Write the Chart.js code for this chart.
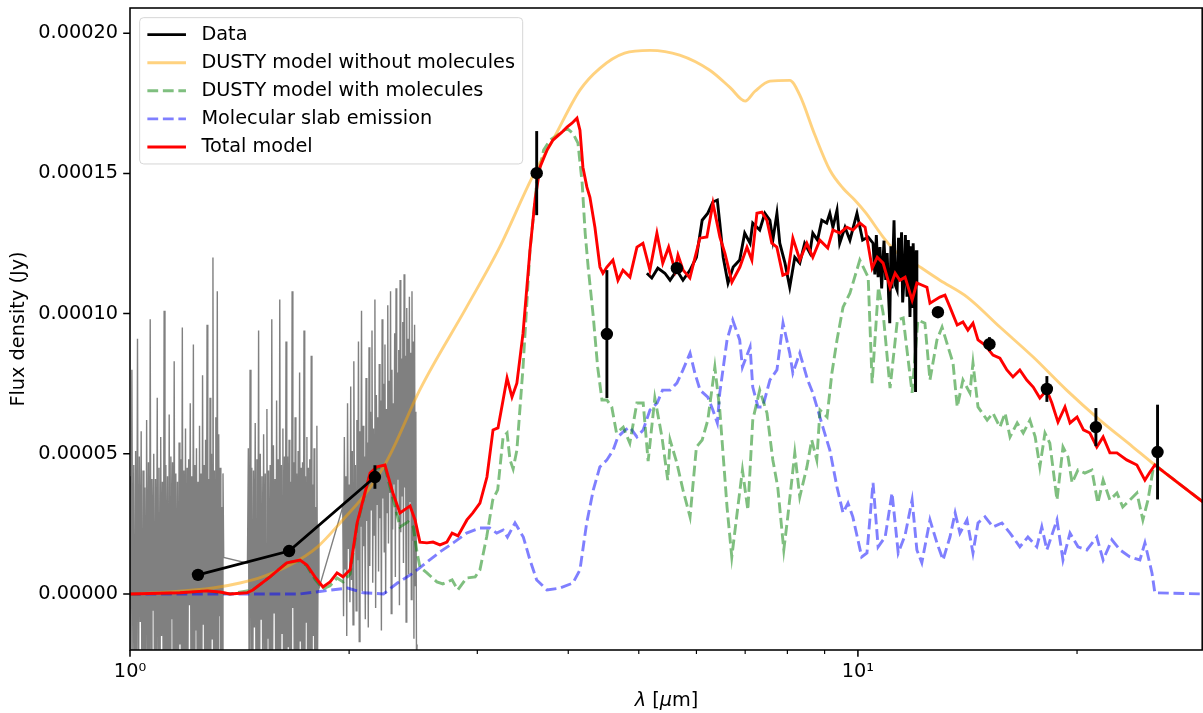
<!DOCTYPE html>
<html>
<head>
<meta charset="utf-8">
<title>SED model comparison</title>
<script src="https://cdn.jsdelivr.net/npm/chart.js@4.4.1/dist/chart.umd.min.js"></script>
<style>
  html, body { margin: 0; padding: 0; background: #fff; }
  #sed { display: block; }
</style>
</head>
<body>
<canvas id="sed" width="1203" height="713"></canvas>
<script>
// Wavelengths in micron, fluxes in units of 1e-5 Jy.

// near-IR spectrum, J / H / K windows
const jWave = [
  1.000, 1.003, 1.006, 1.009, 1.012, 1.015, 1.018, 1.021, 1.024, 1.027,
  1.030, 1.033, 1.036, 1.039, 1.042, 1.045, 1.048, 1.051, 1.054, 1.057,
  1.060, 1.063, 1.066, 1.069, 1.072, 1.075, 1.078, 1.081, 1.084, 1.087,
  1.090, 1.093, 1.096, 1.099, 1.102, 1.105, 1.108, 1.111, 1.114, 1.117,
  1.120, 1.123, 1.126, 1.129, 1.132, 1.135, 1.138, 1.141, 1.144, 1.147,
  1.150, 1.153, 1.156, 1.159, 1.162, 1.165, 1.168, 1.171, 1.174, 1.177,
  1.180, 1.183, 1.186, 1.189, 1.192, 1.195, 1.198, 1.201, 1.204, 1.207,
  1.210, 1.213, 1.216, 1.219, 1.222, 1.225, 1.228, 1.231, 1.234, 1.237,
  1.240, 1.243, 1.246, 1.249, 1.252, 1.255, 1.258, 1.261, 1.264, 1.267,
  1.270, 1.273, 1.276, 1.279, 1.282, 1.285, 1.288, 1.291, 1.294, 1.297,
  1.300, 1.303, 1.306, 1.309, 1.312, 1.315, 1.318, 1.321, 1.324, 1.327,
  1.330, 1.333, 1.336, 1.339, 1.342, 1.345
];
const jFlux = [
  4.2, -4.8, 8.0, -2.1, 4.6, -6.5, 5.1, -3.0, 9.1, -5.2,
  4.9, -1.0, 5.8, -7.1, 4.4, -3.6, 3.8, -4.9, 6.2, -2.4,
  4.7, -6.0, 9.8, -3.3, 4.1, -0.6, 5.0, -5.5, 4.1, -2.8,
  7.0, -4.2, 4.5, -6.8, 5.6, -1.5, 4.0, -3.9, 10.1, -5.0,
  4.6, -2.2, 4.2, -7.4, 6.4, -3.4, 4.9, -0.9, 4.7, -5.7,
  8.3, -2.6, 4.3, -4.4, 4.0, -6.2, 5.4, -1.8, 4.8, -3.8,
  9.5, -5.3, 4.4, -2.0, 5.9, -6.6, 4.5, -3.1, 4.8, -0.4,
  6.8, -4.6, 4.2, -2.9, 8.9, -5.9, 4.6, -1.3, 5.2, -4.0,
  4.0, -6.9, 6.0, -2.5, 4.3, -4.3, 7.8, -1.1, 4.6, -5.4,
  5.5, -3.5, 9.6, -2.3, 4.1, -6.1, 7.0, -3.7, 5.0, -1.6,
  12.0, -4.7, 4.4, -2.7, 6.3, -5.8, 10.8, -3.2, 5.7, -0.8,
  4.5, -3.9, 3.1, -2.0, 4.3, 1.3
];
const hWave = [
  1.450, 1.454, 1.458, 1.462, 1.466, 1.470, 1.474, 1.478, 1.482, 1.486,
  1.490, 1.494, 1.498, 1.502, 1.506, 1.510, 1.514, 1.518, 1.522, 1.526,
  1.530, 1.534, 1.538, 1.542, 1.546, 1.550, 1.554, 1.558, 1.562, 1.566,
  1.570, 1.574, 1.578, 1.582, 1.586, 1.590, 1.594, 1.598, 1.602, 1.606,
  1.610, 1.614, 1.618, 1.622, 1.626, 1.630, 1.634, 1.638, 1.642, 1.646,
  1.650, 1.654, 1.658, 1.662, 1.666, 1.670, 1.674, 1.678, 1.682, 1.686,
  1.690, 1.694, 1.698, 1.702, 1.706, 1.710, 1.714, 1.718, 1.722, 1.726,
  1.730, 1.734, 1.738, 1.742, 1.746, 1.750, 1.754, 1.758, 1.762, 1.766,
  1.770, 1.774, 1.778, 1.782, 1.786, 1.790, 1.794, 1.798, 1.802, 1.806,
  1.810, 1.814, 1.818
];
const hFlux = [
  1.1, 5.2, -3.6, 8.0, -2.0, 4.5, -5.8, 4.4, -1.2, 6.1,
  -4.4, 4.8, -2.7, 9.4, -6.3, 5.0, -0.9, 4.2, -3.8, 5.7,
  -2.2, 4.3, -5.1, 6.6, -1.6, 4.4, -4.0, 4.6, -6.7, 9.8,
  -2.9, 5.3, -0.7, 4.1, -4.8, 6.9, -2.4, 4.8, -5.5, 10.5,
  -3.1, 4.6, -1.4, 5.9, -6.0, 4.9, -2.6, 9.0, -4.3, 4.9,
  -1.9, 5.5, -5.2, 4.0, -3.3, 10.8, -0.5, 4.7, -4.6, 6.3,
  -2.1, 4.3, -6.4, 5.1, -3.0, 7.9, -1.7, 4.5, -4.9, 4.7,
  -2.5, 9.4, -5.6, 4.2, -1.0, 5.6, -3.7, 4.5, -6.2, 4.8,
  -2.8, 8.5, -4.1, 3.9, -1.5, 5.2, -3.4, 3.1, -5.0, 6.0,
  -2.3, 2.4, 0.2
];
const kWave = [
  1.960, 1.965, 1.970, 1.975, 1.980, 1.985, 1.990, 1.995, 2.000, 2.005,
  2.010, 2.015, 2.020, 2.025, 2.030, 2.035, 2.040, 2.045, 2.050, 2.055,
  2.060, 2.065, 2.070, 2.075, 2.080, 2.085, 2.090, 2.095, 2.100, 2.105,
  2.110, 2.115, 2.120, 2.125, 2.130, 2.135, 2.140, 2.145, 2.150, 2.155,
  2.160, 2.165, 2.170, 2.175, 2.180, 2.185, 2.190, 2.195, 2.200, 2.205,
  2.210, 2.215, 2.220, 2.225, 2.230, 2.235, 2.240, 2.245, 2.250, 2.255,
  2.260, 2.265, 2.270, 2.275, 2.280, 2.285, 2.290, 2.295, 2.300, 2.305,
  2.310, 2.315, 2.320, 2.325, 2.330, 2.335, 2.340, 2.345, 2.350, 2.355,
  2.360, 2.365, 2.370, 2.375, 2.380, 2.385, 2.390, 2.395, 2.400, 2.405,
  2.410, 2.415, 2.420, 2.425, 2.430, 2.435, 2.440, 2.445, 2.450, 2.455,
  2.460, 2.465, 2.470, 2.475, 2.480
];
const kFlux = [
  3.1, -0.8, 5.6, 0.9, 4.2, -1.5, 6.8, 1.6, 3.9, -0.3,
  7.4, 0.5, 5.1, -1.1, 8.3, 2.0, 4.6, -0.6, 6.2, 1.2,
  9.0, -1.7, 5.8, 2.4, 10.1, 0.1, 6.0, 1.7, 4.9, -0.9,
  7.7, 2.6, 5.4, -1.2, 8.8, 1.0, 6.5, 3.0, 9.4, 0.4,
  5.9, 2.1, 10.5, -0.5, 7.1, 3.2, 6.3, 0.8, 8.2, 2.7,
  6.9, -1.3, 9.8, 3.4, 7.5, 1.5, 8.9, 0.0, 6.6, 2.9,
  10.3, 1.8, 7.6, 3.6, 10.8, -0.7, 8.0, 2.3, 6.8, 3.9,
  9.3, 0.6, 10.9, 2.8, 7.9, 4.1, 8.7, -0.4, 11.2, 2.2,
  8.4, 3.5, 9.7, 1.1, 11.4, 3.8, 8.5, -1.0, 10.2, 2.6,
  9.1, 0.7, 10.6, 3.3, 8.6, -0.2, 10.8, 1.9, 9.0, -1.6,
  9.6, 0.3, 6.5, -2.4, -1.8
];

// mid-IR spectrum
const irsWave = [
  5.13, 5.21, 5.31, 5.43, 5.52, 5.64, 5.75, 5.88, 6.00, 6.11,
  6.22, 6.32, 6.41, 6.46, 6.53, 6.63, 6.74, 6.88, 6.99, 7.11,
  7.17, 7.33, 7.45, 7.57, 7.64, 7.74, 7.81, 7.94, 8.06, 8.19,
  8.32, 8.45, 8.59, 8.67, 8.80, 8.92, 9.06, 9.15, 9.24, 9.36,
  9.44, 9.60, 9.75, 9.97, 10.15, 10.33, 10.49, 10.55, 10.60, 10.66,
  10.72, 10.78, 10.86, 10.92, 10.97, 11.02, 11.06, 11.10, 11.14, 11.21,
  11.26, 11.32, 11.37, 11.43, 11.48, 11.52, 11.57, 11.62, 11.68, 11.73,
  11.79, 11.84, 11.88, 11.91, 11.96, 12.00, 12.03, 12.05
];
const irsFlux = [
  11.44, 11.27, 11.62, 11.44, 11.19, 11.55, 11.19, 11.55, 12.01, 13.33,
  13.58, 13.98, 14.05, 13.23, 12.01, 11.09, 11.66, 11.91, 12.87, 12.51,
  13.23, 12.98, 13.58, 13.33, 12.62, 13.58, 12.51, 11.80, 10.94, 12.01,
  11.80, 12.51, 12.16, 12.87, 12.62, 13.33, 13.23, 13.58, 13.08, 13.69,
  12.51, 13.08, 12.62, 13.58, 12.62, 12.73, 12.51, 11.40, 12.80, 11.30,
  12.37, 10.90, 12.60, 11.20, 12.16, 10.60, 9.66, 12.40, 10.90, 13.33,
  11.00, 10.84, 12.70, 11.20, 12.90, 10.40, 11.19, 12.80, 10.60, 12.62,
  9.88, 12.40, 10.20, 12.51, 10.80, 7.20, 12.26, 11.00
];

// photometry: J, H, K joined by a line, the rest as points
const jhkWave = [1.24, 1.654, 2.17];
const jhkFlux = [0.68, 1.53, 4.17];
const jhkErr = [0.15, 0.15, 0.42];

const photWave = [3.62, 4.52, 5.64, 12.88, 15.16, 18.18, 21.23, 25.8];
const photFlux = [15.01, 9.27, 11.62, 10.05, 8.91, 7.31, 5.95, 5.06];
const photErr = [1.50, 2.28, 0.20, 0.15, 0.25, 0.46, 0.68, 1.69];

// DUSTY model without molecules
const dustyWave = [
  1.00, 1.135, 1.30, 1.416, 1.52, 1.659, 1.81, 1.96, 2.09, 2.23,
  2.30, 2.50, 2.90, 3.22, 3.57, 3.81, 4.15, 4.42, 4.78, 5.18,
  5.69, 6.26, 6.67, 7.00, 7.22, 7.57, 8.06, 8.32, 8.73, 9.15,
  9.54, 9.90, 10.26, 10.83, 11.33, 12.05, 12.96, 14.13, 15.67, 17.41,
  19.35, 21.50, 23.87, 25.38, 29.79
];
const dustyFlux = [
  0, 0.07, 0.21, 0.39, 0.61, 1.03, 1.68, 2.64, 3.46, 4.53,
  5.20, 7.27, 10.23, 12.37, 14.87, 16.19, 17.97, 18.75, 19.29, 19.39,
  19.22, 18.68, 18.07, 17.58, 17.93, 18.29, 18.32, 17.79, 16.36, 15.12,
  14.47, 14.05, 13.58, 12.73, 12.16, 11.73, 11.19, 10.59, 9.52, 8.45,
  7.27, 6.20, 5.24, 4.67, 3.28
];

// DUSTY model with molecules
const dustyMolWave = [
  1.00, 1.171, 1.276, 1.372, 1.475, 1.557, 1.642, 1.712, 1.750, 1.795,
  1.841, 1.883, 1.925, 1.962, 2.006, 2.051, 2.090, 2.137, 2.184, 2.240,
  2.297, 2.349, 2.41, 2.45, 2.48, 2.502, 2.558, 2.64, 2.69, 2.77,
  2.82, 2.90, 2.98, 3.025, 3.09, 3.15, 3.20, 3.255, 3.296, 3.327,
  3.36, 3.40, 3.467, 3.544, 3.62, 3.70, 3.775, 3.896, 3.984, 4.06,
  4.125, 4.18, 4.22, 4.26, 4.33, 4.39, 4.45, 4.52, 4.59, 4.66,
  4.76, 4.86, 4.97, 5.07, 5.15, 5.26, 5.38, 5.48, 5.52, 5.64,
  5.75, 5.88, 6.00, 6.11, 6.22, 6.36, 6.46, 6.61, 6.71, 6.84,
  6.94, 7.06, 7.17, 7.33, 7.50, 7.64, 7.76, 7.91, 8.01, 8.19,
  8.32, 8.51, 8.64, 8.78, 8.87, 9.07, 9.21, 9.36, 9.54, 9.75,
  10.06, 10.33, 10.46, 10.67, 10.83, 11.07, 11.33, 11.54, 11.87, 12.09,
  12.36, 12.56, 12.84, 13.05, 13.30, 13.51, 13.69, 13.94, 14.25, 14.39,
  14.62, 15.05, 15.33, 15.67, 15.93, 16.18, 16.55, 16.87, 17.23, 17.52,
  17.78, 18.07, 18.35, 18.77, 19.13, 19.44, 19.69, 20.06, 20.50, 20.96,
  21.36, 21.72, 22.19, 22.69, 23.11, 23.64, 24.17, 24.63, 25.03, 25.43,
  25.58, 29.79
];
const dustyMolFlux = [
  0, 0.04, 0.11, 0, 0.14, 0.61, 1.11, 1.18, 1.00, 0.53,
  0.18, 0.29, 0.57, 0.43, 0.71, 2.46, 3.32, 4.28, 4.49, 4.53,
  3.42, 2.39, 2.57, 2.39, 1.46, 0.96, 0.75, 0.43, 0.36, 0.50,
  0.14, 0.57, 0.61, 0.86, 2.03, 3.35, 3.71, 5.60, 5.74, 4.78,
  4.46, 5.13, 8.09, 12.26, 14.65, 15.83, 16.19, 16.43, 16.61, 16.43,
  16.08, 14.65, 12.87, 11.66, 9.88, 8.09, 6.92, 6.92, 6.67, 5.74,
  5.95, 5.38, 6.81, 6.81, 4.74, 6.99, 5.60, 4.06, 5.49, 4.67,
  3.71, 2.75, 5.24, 5.49, 6.20, 8.09, 6.56, 3.10, 1.32, 3.10,
  4.42, 2.99, 6.20, 7.27, 6.45, 4.78, 3.81, 1.57, 2.75, 5.03,
  3.46, 4.53, 5.49, 4.78, 6.56, 6.31, 7.88, 9.06, 10.23, 10.73,
  11.91, 11.30, 7.52, 10.94, 10.02, 7.34, 9.77, 9.84, 7.17, 9.77,
  9.66, 7.63, 9.06, 9.52, 8.81, 8.24, 6.67, 7.63, 7.17, 8.24,
  6.67, 6.20, 6.45, 5.95, 6.45, 5.60, 6.10, 5.74, 6.20, 5.60,
  4.53, 5.74, 5.38, 3.35, 5.24, 4.88, 3.96, 4.42, 4.31, 4.42,
  3.24, 4.06, 3.35, 3.60, 3.10, 3.35, 3.60, 2.64, 3.35, 4.42,
  4.60, 3.28
];

// molecular slab emission
const slabWave = [
  1.00, 1.712, 1.80, 1.99, 2.09, 2.23, 2.33, 2.45, 2.56, 2.666,
  2.78, 2.90, 3.025, 3.12, 3.19, 3.255, 3.30, 3.38, 3.47, 3.544,
  3.62, 3.74, 3.896, 4.06, 4.151, 4.24, 4.33, 4.42, 4.52, 4.61,
  4.68, 4.79, 4.86, 4.97, 5.07, 5.18, 5.30, 5.39, 5.52, 5.64,
  5.75, 5.88, 5.97, 6.07, 6.22, 6.32, 6.41, 6.46, 6.61, 6.73,
  6.88, 6.94, 7.11, 7.17, 7.29, 7.40, 7.57, 7.74, 7.89, 8.06,
  8.14, 8.32, 8.53, 8.67, 8.81, 8.95, 9.15, 9.36, 9.54, 9.69,
  9.84, 10.00, 10.12, 10.29, 10.49, 10.66, 10.90, 11.14, 11.36, 11.61,
  11.87, 12.05, 12.24, 12.56, 12.84, 13.09, 13.38, 13.60, 13.81, 14.12,
  14.39, 14.62, 14.95, 15.33, 15.77, 16.18, 16.69, 17.12, 17.61, 17.89,
  18.18, 18.77, 19.13, 19.56, 20.06, 20.63, 21.29, 21.72, 22.33, 22.91,
  23.64, 24.40, 24.79, 25.35, 25.58, 29.79
];
const slabFlux = [
  0, 0, 0.07, 0.21, 0.04, 0, 0.39, 0.75, 1.14, 1.50,
  1.82, 2.17, 2.35, 2.35, 2.17, 2.28, 2.03, 2.53, 2.03, 1.21,
  0.50, 0.14, 0.21, 0.39, 0.86, 2.53, 3.71, 4.53, 4.78, 5.13,
  5.60, 5.85, 5.95, 5.60, 5.85, 6.56, 6.81, 7.27, 7.27, 7.52,
  7.99, 8.59, 7.88, 7.27, 7.02, 6.56, 6.10, 7.17, 9.06, 9.77,
  9.06, 8.09, 8.81, 7.38, 6.67, 6.67, 7.63, 7.99, 9.66, 8.59,
  7.88, 8.59, 7.63, 7.17, 6.56, 5.95, 5.13, 3.81, 2.89, 3.24,
  2.75, 1.93, 1.32, 1.46, 3.96, 1.68, 2.03, 3.60, 1.46, 2.10,
  3.35, 1.57, 1.11, 2.64, 1.82, 1.21, 2.03, 2.89, 2.17, 2.64,
  1.46, 2.53, 2.75, 2.39, 2.53, 2.17, 1.68, 2.03, 1.68, 2.39,
  1.57, 2.64, 1.21, 2.17, 1.68, 1.57, 2.03, 1.21, 1.93, 1.57,
  1.32, 1.21, 1.82, 0.75, 0.04, 0
];

// total model
const totalWave = [
  1.00, 1.171, 1.276, 1.329, 1.372, 1.448, 1.475, 1.557, 1.642, 1.712,
  1.750, 1.795, 1.841, 1.883, 1.925, 1.962, 2.006, 2.051, 2.090, 2.137,
  2.184, 2.240, 2.297, 2.349, 2.425, 2.464, 2.502, 2.558, 2.608, 2.666,
  2.725, 2.77, 2.822, 2.903, 2.958, 3.025, 3.093, 3.153, 3.203, 3.255,
  3.296, 3.348, 3.400, 3.467, 3.544, 3.601, 3.658, 3.740, 3.811, 3.921,
  3.984, 4.047, 4.112, 4.151, 4.190, 4.243, 4.284, 4.352, 4.422, 4.464,
  4.520, 4.607, 4.681, 4.756, 4.862, 4.971, 5.066, 5.179, 5.295, 5.394,
  5.495, 5.605, 5.660, 5.753, 5.877, 6.066, 6.202, 6.322, 6.462, 6.565,
  6.712, 6.884, 7.040, 7.150, 7.265, 7.380, 7.498, 7.616, 7.738, 7.886,
  8.011, 8.140, 8.322, 8.508, 8.670, 8.865, 9.090, 9.239, 9.444, 9.655,
  9.845, 10.06, 10.23, 10.46, 10.63, 10.83, 11.07, 11.25, 11.42, 11.61,
  11.87, 12.05, 12.44, 12.56, 12.96, 13.17, 13.38, 13.69, 13.94, 14.16,
  14.39, 14.62, 14.95, 15.33, 15.67, 16.02, 16.33, 16.69, 17.06, 17.41,
  17.78, 18.18, 18.47, 18.83, 19.25, 19.56, 20.00, 20.41, 20.83, 21.29,
  21.72, 22.19, 22.69, 23.40, 24.17, 24.79, 25.19, 25.58, 29.79
];
const totalFlux = [
  0, 0.04, 0.11, 0.07, 0, 0.04, 0.14, 0.61, 1.11, 1.21,
  1.03, 0.61, 0.25, 0.43, 0.75, 0.61, 0.86, 2.53, 3.35, 4.31,
  4.53, 4.60, 3.60, 2.89, 3.14, 2.64, 1.85, 1.82, 1.85, 1.75,
  1.85, 2.17, 2.07, 2.64, 2.89, 3.24, 4.17, 5.85, 5.92, 6.92,
  7.70, 7.02, 7.52, 9.30, 12.26, 14.05, 15.22, 15.83, 16.19, 16.47,
  16.65, 16.79, 16.97, 16.54, 15.22, 14.51, 14.15, 13.08, 11.66, 11.44,
  11.66, 11.91, 11.19, 11.55, 11.30, 12.37, 12.51, 11.55, 12.87, 11.80,
  12.37, 11.55, 12.09, 11.55, 11.27, 12.69, 12.73, 13.94, 12.73, 12.16,
  11.12, 11.66, 12.37, 11.91, 13.58, 13.62, 13.33, 12.51, 12.37, 11.37,
  11.44, 12.69, 11.91, 12.51, 12.01, 12.62, 12.34, 12.98, 12.87, 13.08,
  12.98, 13.23, 13.08, 11.62, 12.01, 11.80, 10.94, 11.44, 11.19, 11.30,
  10.48, 11.09, 10.94, 10.37, 10.59, 10.66, 10.23, 9.59, 9.70, 9.41,
  9.66, 9.06, 8.88, 8.52, 8.41, 7.99, 7.74, 7.99, 7.63, 7.38,
  6.99, 7.27, 6.81, 6.13, 6.67, 6.10, 6.31, 5.85, 5.74, 5.24,
  5.60, 5.03, 5.03, 4.78, 4.60, 4.06, 4.35, 4.60, 3.28
];

// axis ticks
const yTicks = [0, 5, 10, 15, 20];
const xMajor = [1, 10];
const xMinor = [2, 3, 4, 5, 6, 7, 8, 9, 20];

const FS = 19.3;
const FONT = 'DejaVu Sans';
const LW = 2.9;
const DASH = [10.8, 4.7];

const toJy = (v) => v * 1e-5;
const pts = (wave, flux) => wave.map((x, i) => ({ x, y: toJy(flux[i]) }));

Chart.defaults.font.family = FONT;
Chart.defaults.font.size = FS;
Chart.defaults.color = '#000';

const errorBars = {
  id: 'errorBars',
  afterDatasetsDraw(chart) {
    const { ctx, scales: { x, y } } = chart;
    ctx.save();
    ctx.strokeStyle = '#000';
    ctx.lineWidth = LW;
    const draw = (wave, flux, err) => wave.forEach((w, i) => {
      const px = x.getPixelForValue(w);
      ctx.beginPath();
      ctx.moveTo(px, y.getPixelForValue(toJy(flux[i] - err[i])));
      ctx.lineTo(px, y.getPixelForValue(toJy(flux[i] + err[i])));
      ctx.stroke();
    });
    draw(jhkWave, jhkFlux, jhkErr);
    draw(photWave, photFlux, photErr);
    ctx.restore();
  }
};

function drawLegend(chart) {
  const { ctx, chartArea: a } = chart;
  const items = chart.data.datasets
    .filter((d) => d.legendRank !== undefined)
    .sort((p, q) => p.legendRank - q.legendRank);
  ctx.font = `${FS}px "${FONT}"`;
  const textW = Math.max(...items.map((d) => ctx.measureText(d.label).width));
  const pad = 0.4 * FS, handle = 2 * FS, gap = 0.8 * FS, space = 0.5 * FS;
  const rowH = 0.956 * FS;
  const x0 = a.left + 0.5 * FS, y0 = a.top + 0.5 * FS;
  const w = 2 * pad + handle + gap + textW;
  const h = 2 * pad + items.length * rowH + (items.length - 1) * space;

  ctx.save();
  ctx.beginPath();
  ctx.roundRect(x0, y0, w, h, 4);
  ctx.fillStyle = 'rgba(255,255,255,0.8)';
  ctx.fill();
  ctx.strokeStyle = 'rgba(204,204,204,0.8)';
  ctx.lineWidth = 1;
  ctx.stroke();

  items.forEach((d, i) => {
    const cy = y0 + pad + rowH / 2 + i * (rowH + space);
    ctx.beginPath();
    ctx.setLineDash(d.borderDash || []);
    ctx.strokeStyle = d.borderColor;
    ctx.lineWidth = d.borderWidth;
    ctx.moveTo(x0 + pad, cy);
    ctx.lineTo(x0 + pad + handle, cy);
    ctx.stroke();
    ctx.setLineDash([]);
    ctx.fillStyle = '#000';
    ctx.textBaseline = 'middle';
    ctx.textAlign = 'left';
    ctx.fillText(d.label, x0 + pad + handle + gap, cy);
  });
  ctx.restore();
}

function drawXTitle(chart) {
  const { ctx, chartArea: a } = chart;
  const parts = [['λ', 'italic'], [' [', 'normal'], ['μ', 'italic'], ['m]', 'normal']];
  ctx.save();
  ctx.fillStyle = '#000';
  ctx.textBaseline = 'middle';
  ctx.textAlign = 'left';
  const widths = parts.map(([t, s]) => {
    ctx.font = `${s} ${FS}px "${FONT}"`;
    return ctx.measureText(t).width;
  });
  let x = (a.left + a.right) / 2 - widths.reduce((s, v) => s + v, 0) / 2;
  parts.forEach(([t, s], i) => {
    ctx.font = `${s} ${FS}px "${FONT}"`;
    ctx.fillText(t, x, a.bottom + 51);
    x += widths[i];
  });
  ctx.restore();
}

const axesFrame = {
  id: 'axesFrame',
  afterDraw(chart) {
    const { ctx, chartArea: a, scales: { x, y } } = chart;
    ctx.save();
    ctx.strokeStyle = '#000';
    ctx.lineWidth = 1.55;
    ctx.beginPath();
    yTicks.forEach((v) => {
      const py = y.getPixelForValue(toJy(v));
      ctx.moveTo(a.left - 6.8, py);
      ctx.lineTo(a.left, py);
    });
    xMajor.forEach((v) => {
      const px = x.getPixelForValue(v);
      ctx.moveTo(px, a.bottom);
      ctx.lineTo(px, a.bottom + 6.8);
    });
    ctx.stroke();
    ctx.lineWidth = 1.17;
    ctx.beginPath();
    xMinor.forEach((v) => {
      const px = x.getPixelForValue(v);
      ctx.moveTo(px, a.bottom);
      ctx.lineTo(px, a.bottom + 3.9);
    });
    ctx.stroke();
    ctx.lineWidth = 1.55;
    ctx.strokeRect(a.left, a.top, a.right - a.left - 0.8, a.bottom - a.top);
    ctx.restore();
    drawLegend(chart);
    drawXTitle(chart);
  }
};

new Chart(document.getElementById('sed'), {
  type: 'line',
  data: {
    datasets: [
      {
        data: pts(photWave, photFlux),
        showLine: false,
        pointRadius: 6.2,
        pointBackgroundColor: '#000',
        pointBorderWidth: 0,
        order: 0
      },
      {
        data: pts(jhkWave, jhkFlux),
        borderColor: '#000',
        borderWidth: LW,
        pointRadius: 6.2,
        pointBackgroundColor: '#000',
        pointBorderWidth: 0,
        order: 1
      },
      {
        label: 'Total model',
        legendRank: 4,
        data: pts(totalWave, totalFlux),
        borderColor: '#ff0000',
        borderWidth: LW,
        pointRadius: 0,
        order: 2
      },
      {
        label: 'Data',
        legendRank: 0,
        data: pts(irsWave, irsFlux),
        borderColor: '#000',
        borderWidth: LW,
        pointRadius: 0,
        order: 3
      },
      {
        label: 'DUSTY model without molecules',
        legendRank: 1,
        data: pts(dustyWave, dustyFlux),
        borderColor: 'rgba(255,165,0,0.5)',
        borderWidth: LW,
        pointRadius: 0,
        cubicInterpolationMode: 'monotone',
        order: 4
      },
      {
        label: 'DUSTY model with molecules',
        legendRank: 2,
        data: pts(dustyMolWave, dustyMolFlux),
        borderColor: 'rgba(0,128,0,0.5)',
        borderWidth: LW,
        borderDash: DASH,
        pointRadius: 0,
        order: 5
      },
      {
        label: 'Molecular slab emission',
        legendRank: 3,
        data: pts(slabWave, slabFlux),
        borderColor: 'rgba(0,0,255,0.5)',
        borderWidth: LW,
        borderDash: DASH,
        pointRadius: 0,
        order: 6
      },
      {
        data: pts([...jWave, ...hWave, ...kWave], [...jFlux, ...hFlux, ...kFlux]),
        borderColor: '#808080',
        borderWidth: 1.4,
        pointRadius: 0,
        order: 7
      }
    ]
  },
  options: {
    responsive: false,
    devicePixelRatio: 1,
    animation: false,
    clip: 0,
    layout: { autoPadding: false, padding: { top: 8, right: 0, left: 0, bottom: 0 } },
    plugins: {
      legend: { display: false },
      tooltip: { enabled: false }
    },
    scales: {
      x: {
        type: 'logarithmic',
        min: 1,
        max: 29.79,
        grid: { display: false, drawTicks: false },
        border: { display: false },
        afterBuildTicks: (s) => {
          s.ticks = [...xMajor, ...xMinor].sort((p, q) => p - q).map((v) => ({ value: v, major: xMajor.includes(v) }));
        },
        afterFit: (s) => {
          s.height = 63;
          s.paddingLeft = 0;
          s.paddingRight = 0;
        },
        ticks: {
          autoSkip: false,
          maxRotation: 0,
          padding: 10,
          callback: (v) => (v === 1 ? '10⁰' : v === 10 ? '10¹' : '')
        }
      },
      y: {
        min: toJy(-2),
        max: toJy(20.9),
        grid: { display: false, drawTicks: false },
        border: { display: false },
        afterBuildTicks: (s) => { s.ticks = yTicks.map((v) => ({ value: toJy(v) })); },
        afterFit: (s) => {
          s.width = 130;
          s.paddingTop = 0;
          s.paddingBottom = 0;
        },
        ticks: {
          padding: 12,
          callback: (v) => v.toFixed(5)
        },
        title: {
          display: true,
          text: 'Flux density (Jy)',
          padding: { top: 7, bottom: 0 }
        }
      }
    }
  },
  plugins: [errorBars, axesFrame]
});
</script>
</body>
</html>
